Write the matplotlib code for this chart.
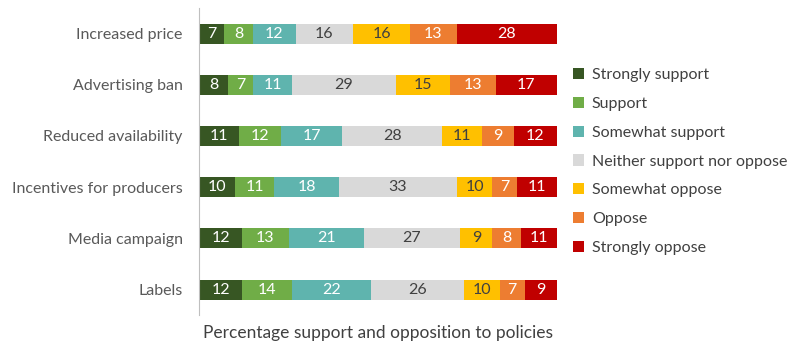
import matplotlib.pyplot as plt
import numpy as np

plt.rcParams['font.family'] = ['Lato', 'DejaVu Sans']

policies = ['Increased price', 'Advertising ban', 'Reduced availability',
            'Incentives for producers', 'Media campaign', 'Labels']
responses = ['Strongly support', 'Support', 'Somewhat support',
             'Neither support nor oppose', 'Somewhat oppose', 'Oppose',
             'Strongly oppose']
strongly_support = [7, 8, 11, 10, 12, 12]
support = [8, 7, 12, 11, 13, 14]
somewhat_support = [12, 11, 17, 18, 21, 22]
neither = [16, 29, 28, 33, 27, 26]
somewhat_oppose = [16, 15, 11, 10, 9, 10]
oppose = [13, 13, 9, 7, 8, 7]
strongly_oppose = [28, 17, 12, 11, 11, 9]

series = [strongly_support, support, somewhat_support, neither,
          somewhat_oppose, oppose, strongly_oppose]
colors = ['#375623', '#70AD47', '#5FB4AE', '#D9D9D9', '#FFC000', '#ED7D31', '#C00000']
text_cols = ['white', 'white', 'white', '#404040', '#404040', 'white', 'white']

fig = plt.figure(figsize=(8, 3.61), dpi=100)
ax = fig.add_axes([0.249, 0.127, 0.447, 0.851])

y = np.arange(len(policies))
left = np.zeros(len(policies))
for vals, col, tc, name in zip(series, colors, text_cols, responses):
    vals = np.array(vals)
    bars = ax.barh(y, vals, left=left, height=0.39, color=col, label=name)
    ax.bar_label(bars, labels=[str(v) for v in vals], label_type='center',
                 color=tc, fontsize=11.5)
    left += vals

ax.set_xlim(0, 100)
ax.set_ylim(len(policies) - 0.5, -0.5)
ax.set_yticks(y)
ax.set_yticklabels(policies, fontsize=11.5, color='#595959')
ax.tick_params(axis='y', length=0, pad=12)
ax.set_xticks([])
for s in ['top', 'right', 'bottom']:
    ax.spines[s].set_visible(False)
ax.spines['left'].set_color('#BFBFBF')
ax.set_xlabel('Percentage support and opposition to policies', fontsize=12.5,
              color='#404040', labelpad=7)

leg = fig.legend(loc='upper left', bbox_to_anchor=(0.708, 0.83), frameon=False,
                 fontsize=11.5, handlelength=0.7, handleheight=0.7,
                 handletextpad=0.5, labelspacing=0.92, borderaxespad=0)
for t in leg.get_texts():
    t.set_color('#404040')

fig.savefig('out.png', dpi=100)
